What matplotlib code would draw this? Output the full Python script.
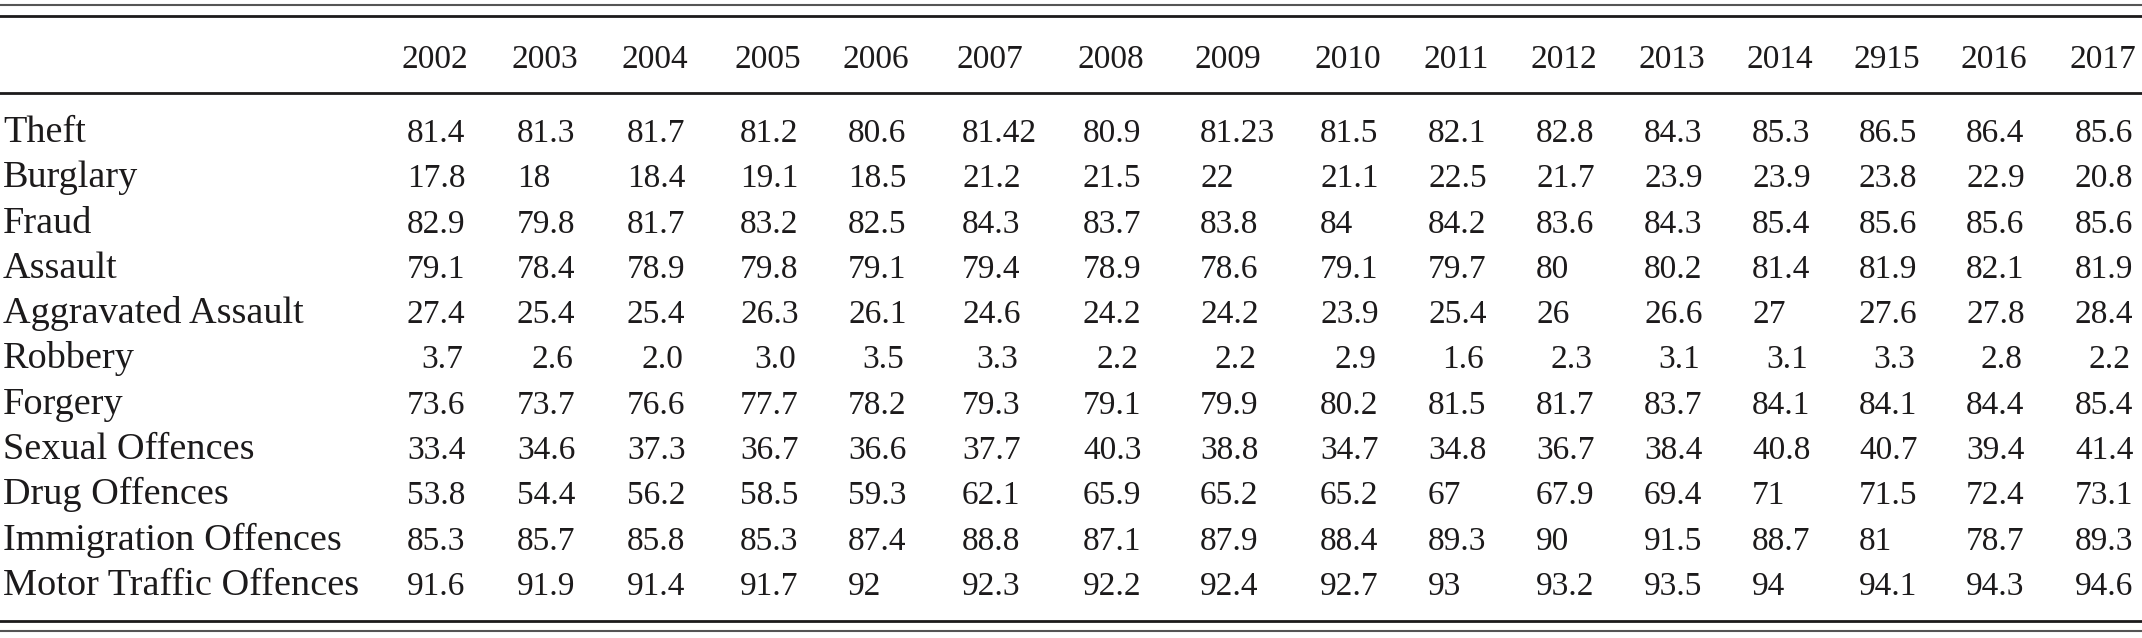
import matplotlib
matplotlib.use("Agg")
import matplotlib.pyplot as plt

years = ["2002", "2003", "2004", "2005", "2006", "2007", "2008", "2009",
         "2010", "2011", "2012", "2013", "2014", "2915", "2016", "2017"]

offences = ["Theft", "Burglary", "Fraud", "Assault", "Aggravated Assault",
            "Robbery", "Forgery", "Sexual Offences", "Drug Offences",
            "Immigration Offences", "Motor Traffic Offences"]

theft = ["81.4", "81.3", "81.7", "81.2", "80.6", "81.42", "80.9", "81.23",
         "81.5", "82.1", "82.8", "84.3", "85.3", "86.5", "86.4", "85.6"]
burglary = ["17.8", "18", "18.4", "19.1", "18.5", "21.2", "21.5", "22",
            "21.1", "22.5", "21.7", "23.9", "23.9", "23.8", "22.9", "20.8"]
fraud = ["82.9", "79.8", "81.7", "83.2", "82.5", "84.3", "83.7", "83.8",
         "84", "84.2", "83.6", "84.3", "85.4", "85.6", "85.6", "85.6"]
assault = ["79.1", "78.4", "78.9", "79.8", "79.1", "79.4", "78.9", "78.6",
           "79.1", "79.7", "80", "80.2", "81.4", "81.9", "82.1", "81.9"]
aggravated = ["27.4", "25.4", "25.4", "26.3", "26.1", "24.6", "24.2", "24.2",
              "23.9", "25.4", "26", "26.6", "27", "27.6", "27.8", "28.4"]
robbery = ["3.7", "2.6", "2.0", "3.0", "3.5", "3.3", "2.2", "2.2",
           "2.9", "1.6", "2.3", "3.1", "3.1", "3.3", "2.8", "2.2"]
forgery = ["73.6", "73.7", "76.6", "77.7", "78.2", "79.3", "79.1", "79.9",
           "80.2", "81.5", "81.7", "83.7", "84.1", "84.1", "84.4", "85.4"]
sexual = ["33.4", "34.6", "37.3", "36.7", "36.6", "37.7", "40.3", "38.8",
          "34.7", "34.8", "36.7", "38.4", "40.8", "40.7", "39.4", "41.4"]
drug = ["53.8", "54.4", "56.2", "58.5", "59.3", "62.1", "65.9", "65.2",
        "65.2", "67", "67.9", "69.4", "71", "71.5", "72.4", "73.1"]
immigration = ["85.3", "85.7", "85.8", "85.3", "87.4", "88.8", "87.1", "87.9",
               "88.4", "89.3", "90", "91.5", "88.7", "81", "78.7", "89.3"]
motor = ["91.6", "91.9", "91.4", "91.7", "92", "92.3", "92.2", "92.4",
         "92.7", "93", "93.2", "93.5", "94", "94.1", "94.3", "94.6"]

rows = [theft, burglary, fraud, assault, aggravated, robbery, forgery,
        sexual, drug, immigration, motor]

# layout in pixels of the 2142x638 picture
W, H = 2142, 638
col_left = [407, 517, 627, 740, 848, 962, 1083, 1200, 1320, 1428, 1536,
            1644, 1752, 1859, 1966, 2075]
num_w = 56
head_y = 68
row_y0 = 142
row_dy = 45.3
ink = "#1c1a1b"

fig = plt.figure(figsize=(W / 100, H / 100), dpi=100)
ax = fig.add_axes([0, 0, 1, 1])
ax.set_xlim(0, W)
ax.set_ylim(H, 0)
ax.set_axis_off()

font = "Liberation Serif"

# rules
ax.axhline(5, color="#555555", lw=1.5)
ax.axhline(16, color=ink, lw=2.0)
ax.axhline(93, color=ink, lw=2.0)
ax.axhline(621, color=ink, lw=2.0)
ax.axhline(631, color="#555555", lw=1.5)

for x, yr in zip(col_left, years):
    ax.text(x + num_w / 2, head_y, yr, ha="center", va="baseline",
            fontsize=24, family=font, color=ink)

for i, (name, vals) in enumerate(zip(offences, rows)):
    y = row_y0 + i * row_dy
    ax.text(3, y, name, ha="left", va="baseline", fontsize=27.5,
            family=font, color=ink)
    for x, v in zip(col_left, vals):
        if name == "Robbery":
            ax.text(x + num_w, y, v, ha="right", va="baseline",
                    fontsize=24, family=font, color=ink)
        else:
            ax.text(x, y, v, ha="left", va="baseline", fontsize=24,
                    family=font, color=ink)

fig.savefig("out.png", dpi=100)
